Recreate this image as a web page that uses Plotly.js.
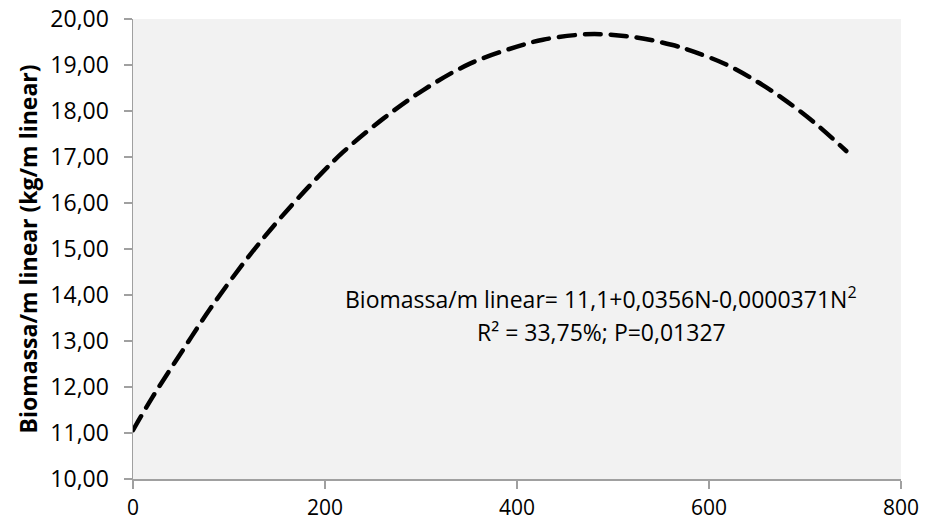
<!DOCTYPE html>
<html>
<head>
<meta charset="utf-8">
<script src="https://cdn.plot.ly/plotly-3.0.1.min.js"></script>
<style>
  html, body { margin: 0; padding: 0; background: #fff; }
  #chart { width: 925px; height: 524px; }
  .js-line { stroke-linecap: round; }
</style>
</head>
<body>
<div id="chart"></div>
<script>
// Values
const nitrogen = [0, 20, 50, 80, 118, 153, 191, 219, 261, 302, 351, 400, 427, 466, 488, 524, 561, 584, 618, 650, 677, 709, 743];
const biomass  = [11.06, 11.77, 12.74, 13.69, 14.77, 15.66, 16.53, 17.11, 17.84, 18.45, 19.03, 19.40, 19.55, 19.66, 19.67, 19.60, 19.44, 19.29, 19.01, 18.64, 18.27, 17.76, 17.13];
const xTicks = [0, 200, 400, 600, 800];
const yTicks = [10, 11, 12, 13, 14, 15, 16, 17, 18, 19, 20];
const yTitle = "Biomassa/m linear (kg/m linear)";
const eqLine1 = "Biomassa/m linear= 11,1+0,0356N-0,0000371N<sup>2</sup>";
const eqLine2 = "R² = 33,75%; P=0,01327";

const FONT = "'Open Sans', Lato, sans-serif";
const FS = 23;

const trace = {
  x: nitrogen,
  y: biomass,
  mode: "lines",
  type: "scatter",
  line: { color: "#000000", width: 4.5, dash: "16px,10px", shape: "spline", smoothing: 1 },
  hoverinfo: "skip",
  showlegend: false
};

const layout = {
  width: 925,
  height: 524,
  margin: { l: 133, r: 24, t: 19, b: 45 },
  paper_bgcolor: "#ffffff",
  plot_bgcolor: "#f2f2f2",
  font: { family: FONT, size: FS, color: "#000000" },
  xaxis: {
    range: [0, 800],
    tickvals: xTicks,
    ticktext: xTicks.map(String),
    showgrid: false,
    zeroline: false,
    showline: true,
    linecolor: "#a0a0a0",
    linewidth: 1.5,
    ticks: "outside",
    ticklen: 8,
    tickwidth: 1.5,
    tickcolor: "#a0a0a0",
    ticklabelstandoff: 1,
    tickfont: { family: FONT, size: 21, color: "#000000" }
  },
  yaxis: {
    range: [10, 20],
    tickvals: yTicks,
    ticktext: yTicks.map(v => v.toFixed(2).replace(".", ",")),
    showgrid: false,
    zeroline: false,
    showline: true,
    linecolor: "#a0a0a0",
    linewidth: 1.5,
    ticks: "outside",
    ticklen: 8,
    tickwidth: 1.5,
    tickcolor: "#a0a0a0",
    ticklabelstandoff: 10,
    tickfont: { family: FONT, size: FS, color: "#000000" },
    title: { text: "<b>" + yTitle + "</b>", font: { family: FONT, size: FS, color: "#000000" }, standoff: 6 }
  },
  annotations: [
    {
      x: 487.5, y: 13.93, xref: "x", yref: "y",
      text: eqLine1,
      showarrow: false, xanchor: "center", yanchor: "middle",
      font: { family: FONT, size: FS, color: "#000000" }
    },
    {
      x: 487.5, y: 13.19, xref: "x", yref: "y",
      text: eqLine2,
      showarrow: false, xanchor: "center", yanchor: "middle",
      font: { family: FONT, size: FS, color: "#000000" }
    }
  ]
};

Plotly.newPlot("chart", [trace], layout, { displayModeBar: false, staticPlot: true });
</script>
</body>
</html>
